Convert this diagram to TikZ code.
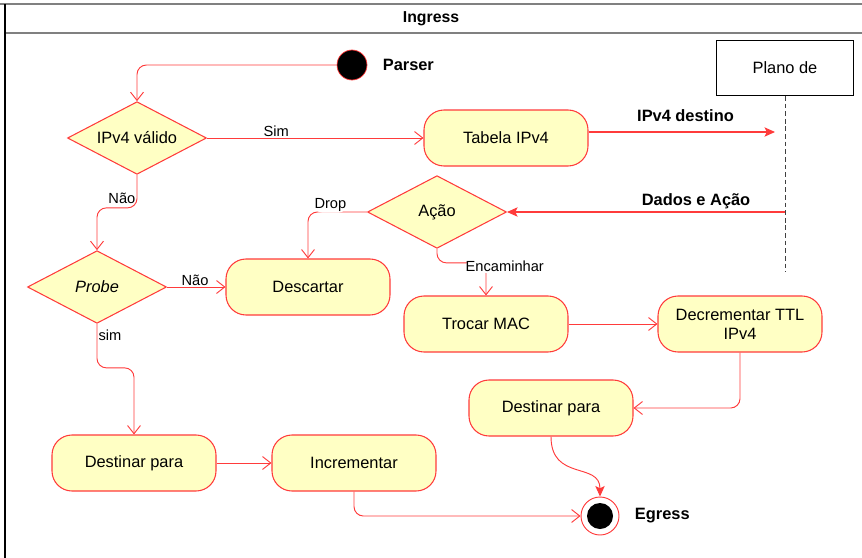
\documentclass[tikz,border=0pt]{standalone}
\usepackage{fontspec}
\setmainfont{Liberation Sans}
\usetikzlibrary{shapes.geometric,arrows.meta,positioning}

\definecolor{FlowRed}{HTML}{FF3B3B}
\definecolor{ActionFill}{HTML}{FFFFC4}
\colorlet{FrameGray}{black!50}

\begin{document}
\begin{tikzpicture}[x=0.03cm, y=-0.03cm,
    action/.style={draw=FlowRed, fill=ActionFill, line width=0.9pt, rounded corners=0.6cm,
        minimum width=4.92cm, minimum height=1.68cm, align=center, font=\fontsize{14}{16}\selectfont},
    decision/.style={diamond, aspect=2, draw=FlowRed, fill=ActionFill, line width=0.9pt, inner sep=0pt,
        minimum width=4.17cm, minimum height=2.18cm, font=\fontsize{14}{16}\selectfont},
    flow/.style={draw=FlowRed, line width=0.8pt, rounded corners=8pt,
        -{Straight Barb[length=7pt,width=11pt]}},
    signal/.style={draw=FlowRed, line width=0.9pt, -{Stealth[length=9pt,width=8pt,inset=2pt]}},
    guard/.style={font=\fontsize{12.5}{14}\selectfont, inner sep=1pt},
    heading/.style={font=\fontsize{14}{16}\selectfont\bfseries, inner sep=0pt},
]

    \useasboundingbox (0,0) rectangle (862,558);

    \draw[FrameGray, line width=1.7pt] (0,4) -- (862,4);
    \draw[FrameGray, line width=1.7pt] (5,33) -- (862,33);
    \draw[black, line width=1.2pt] (5,4) -- (5,558);
    \node (title) [heading, font=\fontsize{13.5}{16}\selectfont\bfseries] at (431,19) {Ingress};

    \node (parser) [circle, fill=black, draw=FlowRed, line width=0.6pt, minimum size=0.9cm, inner sep=0pt] at (352,65) {};
    \node (parserlabel) [heading, right=13pt of parser] {Parser};

    \node (ipv4) [decision] at (137,138) {IPv4 válido};
    \node (tabela) [action] at (506,138) {Tabela IPv4};
    \node (acao) [decision] at (437,212) {Ação};
    \node (probe) [decision] at (97,287) {\itshape Probe};
    \node (descartar) [action] at (308,287) {Descartar};
    \node (trocar) [action] at (486,324) {Trocar MAC};
    \node (decr) [action] at (740,324) {Decrementar TTL\\IPv4};
    \node (destB) [action] at (551,408) {Destinar para};
    \node (destA) [action] at (134,463) {Destinar para};
    \node (incr) [action] at (354,463) {Incrementar};

    \node (egress) [circle, draw=FlowRed, fill=white, line width=0.8pt, minimum size=1.14cm, inner sep=0pt] at (600,516) {};
    \node (egressdot) [circle, fill=black, minimum size=0.78cm, inner sep=0pt] at (egress) {};
    \node (egresslabel) [heading, right=13pt of egress] {Egress};

    \node (plano) [draw, fill=white, line width=0.8pt, minimum width=4.11cm, minimum height=1.65cm,
        font=\fontsize{14}{16}\selectfont] at (785,68) {Plano de};
    \coordinate (lifeend) at (785,272);
    \draw[black!75, line width=0.8pt, dash pattern=on 4pt off 2.5pt] (plano.south) -- (lifeend);

    \coordinate (dest) at (775,132);
    \coordinate (dados) at (785,212);

    \draw[flow] (parser) -| (ipv4);
    \draw[flow] (ipv4) -- node[guard, above, pos=0.32] {Sim} (tabela);
    \draw[signal] (tabela.east |- dest) -- node[heading, above=8pt, pos=0.52] {IPv4 destino} (dest);
    \draw[signal] (dados) -- node[heading, above=2pt, pos=0.32] {Dados e Ação} (acao.east);
    \draw[flow] (acao.west) -| node[guard, fill=white, pos=0.31, yshift=6pt] {Drop} (descartar.north);
    \draw[flow] (acao.south) -- ++(0,14) -| node[guard, fill=white, pos=0.5, xshift=16pt, yshift=-3pt] {Encaminhar} (trocar.north);
    \draw[flow] (ipv4.south) -- node[guard, left, pos=0.7] {Não} ++(0,33) -| (probe.north);
    \draw[flow] (probe) -- node[guard, above, pos=0.48] {Não} (descartar);
    \draw[flow] (probe.south) -- node[guard, right, pos=0.25] {sim} ++(0,44) -| (destA.north);
    \draw[flow] (trocar) -- (decr);
    \draw[flow] (decr.south) |- (destB.east);
    \draw[flow] (destA) -- (incr);
    \draw[flow] (incr.south) |- (egress.west);
    \draw[signal, line width=0.8pt] (destB.south) .. controls +(0,45) and +(0,-35) .. (egress.north);

\end{tikzpicture}
\end{document}
